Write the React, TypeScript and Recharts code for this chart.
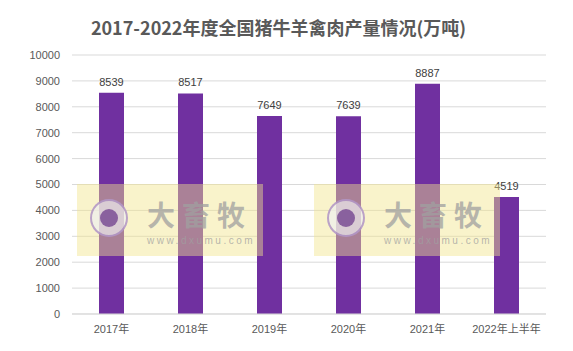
import React from "react";
import { BarChart, Bar, XAxis, YAxis, CartesianGrid, LabelList } from "recharts";

const categories = ["2017年", "2018年", "2019年", "2020年", "2021年", "2022年上半年"];
const production = [8539, 8517, 7649, 7639, 8887, 4519];
const yTicks = [0, 1000, 2000, 3000, 4000, 5000, 6000, 7000, 8000, 9000, 10000];

const data = categories.map((c, i) => ({ name: c, value: production[i] }));

const FONT = "'Liberation Sans', 'Noto Sans CJK SC', sans-serif";

function Watermark({ left }: { left: number }) {
  return (
    <div
      style={{
        position: "absolute",
        left,
        top: 184,
        width: 186,
        height: 72,
        background: "rgba(242, 228, 140, 0.45)",
        pointerEvents: "none",
      }}
    >
      <div
        style={{
          position: "absolute",
          left: 13,
          top: 15,
          width: 38,
          height: 38,
          borderRadius: "50%",
          background: "rgba(238,238,238,0.7)",
          border: "2px solid rgba(150,110,180,0.6)",
          boxSizing: "border-box",
        }}
      >
        <div
          style={{
            position: "absolute",
            left: 8,
            top: 8,
            width: 18,
            height: 18,
            borderRadius: "50%",
            background: "rgba(110,60,140,0.75)",
          }}
        />
      </div>
      <div
        style={{
          position: "absolute",
          left: 70,
          top: 16,
          fontFamily: "'Noto Sans CJK SC', sans-serif",
          fontWeight: 700,
          fontSize: 28,
          lineHeight: "28px",
          color: "rgba(160,160,160,0.75)",
          letterSpacing: 7,
          whiteSpace: "nowrap",
        }}
      >
        大畜牧
      </div>
      <div
        style={{
          position: "absolute",
          left: 70,
          top: 52,
          fontFamily: FONT,
          fontSize: 10,
          lineHeight: "10px",
          color: "rgba(160,160,160,0.75)",
          letterSpacing: 2.5,
          whiteSpace: "nowrap",
        }}
      >
        www.dxumu.com
      </div>
    </div>
  );
}

export default function App() {
  return (
    <div style={{ position: "absolute", left: 0, top: 0, width: 573, height: 351, background: "#fff" }}>
      <div
        style={{
          position: "absolute",
          left: 0,
          top: 14,
          width: 557,
          textAlign: "center",
          fontFamily: "'Noto Sans CJK SC', sans-serif",
          fontWeight: 700,
          fontSize: 18,
          color: "#595959",
          lineHeight: "26px",
        }}
      >
        2017-2022年度全国猪牛羊禽肉产量情况(万吨)
      </div>
      <BarChart
        width={573}
        height={351}
        data={data}
        margin={{ top: 55, right: 27, bottom: 0, left: 0 }}
        barCategoryGap={0}
      >
        <CartesianGrid vertical={false} stroke="#d9d9d9" />
        <XAxis
          dataKey="name"
          height={37}
          tickLine={false}
          tickSize={0}
          tickMargin={11}
          axisLine={{ stroke: "#d9d9d9" }}
          tick={{ fill: "#595959", fontSize: 11, fontFamily: FONT }}
          interval={0}
        />
        <YAxis
          width={72}
          domain={[0, 10000]}
          ticks={yTicks}
          axisLine={false}
          tickLine={false}
          tickSize={0}
          tickMargin={12}
          tick={{ fill: "#595959", fontSize: 11, fontFamily: FONT }}
        />
        <Bar dataKey="value" fill="#7030A0" barSize={25} isAnimationActive={false}>
          <LabelList
            dataKey="value"
            position="top"
            offset={7}
            fill="#404040"
            fontSize={11}
            fontFamily={FONT}
          />
        </Bar>
      </BarChart>
      <Watermark left={77} />
      <Watermark left={314} />
    </div>
  );
}
